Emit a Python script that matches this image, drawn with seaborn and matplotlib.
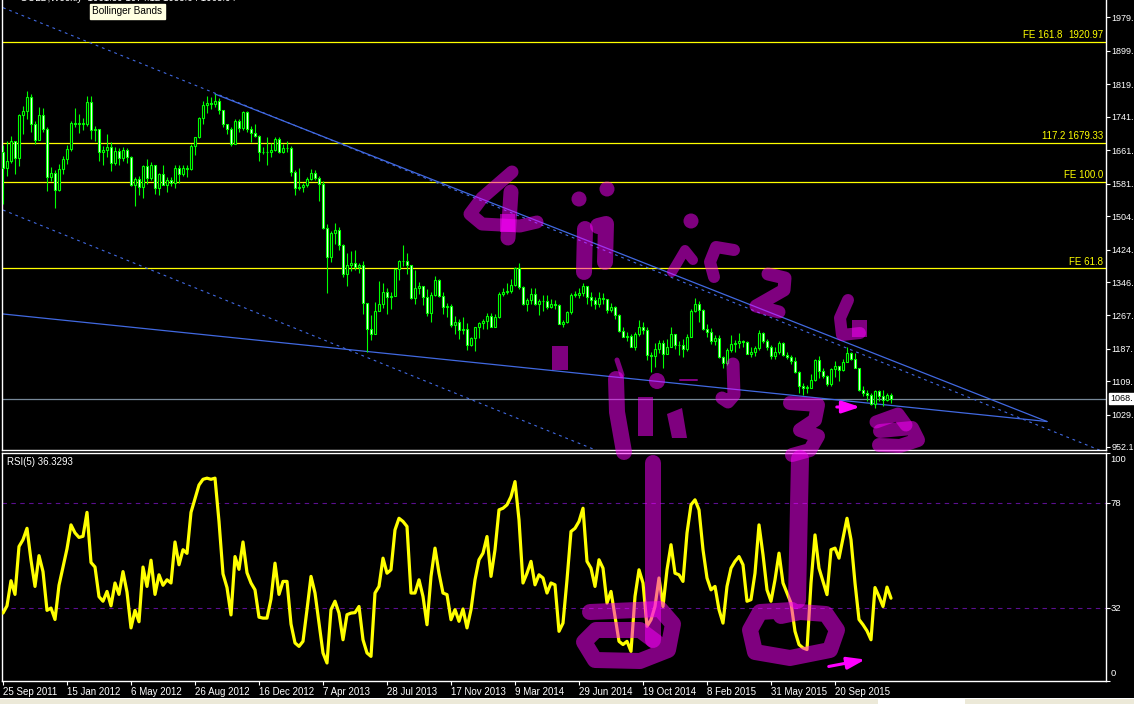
import numpy as np
import matplotlib
matplotlib.use("Agg")
import matplotlib.pyplot as plt
import matplotlib.transforms as mtransforms
from matplotlib.patches import Rectangle, Circle, Polygon
import seaborn as sns

# ---------------- data (weekly GOLD, bar 0 = week of 25 Sep 2011) ----------------
first_open = 1657
closes = [1620,1636,1683,1643,1746,1755,1788,1725,1685,1746,
          1712,1598,1606,1566,1617,1640,1665,1727,1725,1725,
          1725,1776,1710,1712,1658,1662,1668,1631,1659,1642,
          1663,1645,1578,1592,1573,1623,1595,1627,1572,1604,
          1579,1590,1583,1620,1604,1620,1617,1671,1692,1739,
          1770,1773,1772,1780,1757,1724,1712,1677,1731,1714,
          1752,1712,1703,1696,1658,1657,1656,1662,1687,1658,
          1667,1667,1609,1572,1574,1578,1592,1608,1596,1581,
          1476,1405,1463,1470,1436,1366,1387,1392,1383,1387,
          1296,1234,1223,1277,1295,1322,1310,1313,1377,1396,
          1396,1387,1308,1333,1337,1310,1272,1315,1352,1314,
          1287,1288,1244,1251,1231,1235,1197,1213,1238,1248,
          1253,1264,1240,1262,1318,1323,1326,1339,1379,1334,
          1294,1303,1318,1293,1301,1302,1287,1293,1292,1246,
          1252,1274,1316,1316,1320,1337,1310,1303,1294,1309,
          1305,1280,1286,1268,1230,1216,1217,1192,1222,1238,
          1231,1171,1169,1186,1201,1175,1191,1222,1195,1195,
          1186,1216,1277,1293,1279,1234,1228,1205,1212,1167,
          1153,1183,1199,1201,1205,1203,1175,1178,1189,1225,
          1205,1190,1170,1180,1201,1173,1168,1157,1131,1098,
          1094,1094,1113,1159,1134,1121,1103,1138,1145,1137,
          1156,1176,1162,1142,1088,1081,1076,1056,1085,1075,
          1065,1076,1068]
highs = [1675,1684,1695,1684,1748,1767,1803,1795,1730,1764,
         1763,1717,1621,1613,1628,1647,1675,1730,1763,1747,
         1738,1790,1792,1720,1710,1672,1700,1680,1670,1667,
         1668,1667,1647,1597,1600,1627,1641,1632,1627,1606,
         1625,1597,1598,1626,1626,1625,1626,1676,1694,1741,
         1778,1790,1788,1796,1786,1755,1725,1718,1735,1737,
         1754,1754,1720,1723,1697,1669,1694,1679,1694,1694,
         1677,1683,1672,1615,1619,1583,1597,1616,1614,1600,
         1588,1484,1469,1488,1477,1438,1415,1421,1424,1393,
         1397,1295,1267,1298,1348,1345,1331,1323,1378,1400,
         1434,1416,1388,1376,1347,1336,1329,1323,1361,1353,
         1323,1296,1293,1265,1258,1262,1249,1216,1240,1250,
         1259,1272,1273,1270,1322,1332,1345,1354,1383,1392,
         1338,1307,1331,1331,1306,1316,1315,1306,1304,1294,
         1255,1276,1321,1325,1332,1345,1338,1322,1311,1322,
         1320,1305,1296,1288,1271,1238,1226,1221,1227,1255,
         1250,1238,1180,1200,1207,1209,1210,1238,1223,1205,
         1210,1223,1282,1307,1301,1283,1245,1237,1220,1219,
         1170,1188,1220,1209,1224,1209,1205,1192,1194,1232,
         1226,1210,1195,1192,1205,1204,1180,1171,1168,1133,
         1104,1101,1126,1162,1170,1141,1124,1141,1157,1146,
         1162,1191,1180,1176,1142,1097,1088,1080,1088,1089,
         1088,1080,1082]
lows = [1532,1600,1630,1604,1623,1700,1735,1706,1676,1685,
        1704,1564,1587,1523,1564,1605,1628,1659,1718,1703,
        1710,1720,1688,1683,1635,1627,1646,1612,1627,1627,
        1635,1630,1577,1527,1555,1547,1581,1590,1557,1555,
        1578,1562,1575,1572,1583,1600,1598,1613,1650,1690,
        1725,1750,1760,1765,1747,1718,1700,1672,1680,1705,
        1710,1705,1682,1693,1635,1652,1626,1645,1660,1654,
        1654,1657,1599,1554,1566,1562,1573,1591,1589,1539,
        1473,1321,1395,1437,1423,1359,1338,1372,1376,1367,
        1270,1180,1207,1223,1278,1284,1271,1281,1312,1351,
        1385,1366,1306,1294,1317,1291,1266,1251,1314,1311,
        1270,1262,1240,1221,1211,1221,1185,1194,1182,1213,
        1233,1235,1238,1241,1261,1313,1317,1319,1336,1330,
        1291,1277,1295,1291,1268,1277,1283,1285,1282,1245,
        1240,1249,1271,1310,1309,1312,1293,1290,1281,1286,
        1294,1273,1275,1257,1227,1214,1206,1190,1183,1218,
        1223,1160,1131,1144,1177,1142,1176,1191,1186,1171,
        1167,1182,1216,1275,1252,1232,1216,1198,1195,1164,
        1142,1148,1178,1178,1189,1192,1174,1168,1170,1183,
        1200,1185,1162,1163,1175,1170,1162,1150,1130,1081,
        1077,1080,1093,1109,1118,1118,1098,1098,1120,1110,
        1133,1155,1159,1141,1085,1073,1062,1052,1046,1061,
        1050,1062,1058]
rsi = [29.8,33,44,38,59,62,67,53,41.5,55,
       48,31,32,27,42,50,58,68.5,65,63,
       63.5,74,52,50,37,35,39.3,33,43,38,
       48,39,23.3,31,26,50,41.5,53,38,46.6,
       42,44.4,43,61,51,57.6,56,74,80,86,
       88.5,89,88.5,89,70,47,41,29,54.6,49,
       61,47.5,43,40,28,27.6,27.6,36,51.7,38,
       43.7,43.7,25,16.7,15.2,17.4,31.3,45.9,38.6,25.4,
       12.3,7.9,31.3,35,29.8,18.1,29.1,29.8,30,32.7,
       18.1,12.3,10.8,38.6,41.5,53.9,47.3,48.8,66.3,71.4,
       70,67.8,38.6,38.6,44.4,37.1,24.7,45.9,58.3,47.3,
       38.6,37.9,26.9,31.3,26.2,31.6,23.3,31.3,44.4,53.2,
       56.1,63.4,45.9,57.6,75.1,75.8,77.3,80.9,87.5,70.7,
       43,47.3,52.5,42.2,46.6,45.2,38.6,43,42.2,21.8,
       25.4,44.4,65.6,67,70,75.8,52.5,49.5,41.5,53.2,
       49.5,34.2,39.3,28.4,17.4,16,17.4,13,37.1,48.8,
       43,24,26.9,32.7,45.2,32.7,48.8,59.8,47.3,46.6,
       43.7,64.9,77.3,79.5,75.1,57.6,45.2,40,41.5,31.3,
       25.4,41.5,49.5,52.5,54.6,51,35,35.7,47.3,68.5,
       55.4,40,35,44.4,56.1,43,38.6,34.2,21.8,16,
       14.5,13.8,43,64.1,49.5,43.7,37.9,57.6,58.3,53.9,
       62.7,71.4,62,43,27,24.7,22,18.1,41,37.1,
       32.7,41.2,36.33]

date_label_bars = [0, 16, 32, 48, 64, 80, 96, 112, 128, 144, 160, 176, 192, 208]
date_labels = ["25 Sep 2011", "15 Jan 2012", "6 May 2012", "26 Aug 2012", "16 Dec 2012",
               "7 Apr 2013", "28 Jul 2013", "17 Nov 2013", "9 Mar 2014", "29 Jun 2014",
               "19 Oct 2014", "8 Feb 2015", "31 May 2015", "20 Sep 2015"]
price_ticks = [1979, 1899, 1819, 1741, 1661, 1581, 1504, 1424, 1346, 1267, 1187, 1109, 1029, 952.1]
price_tick_labels = ["1979.", "1899.", "1819.", "1741.", "1661.", "1581.", "1504.", "1424.",
                     "1346.", "1267.", "1187.", "1109.", "1029.", "952.1"]
fe_levels = [1920.97, 1679.33, 1586.1, 1379.1]
fe_right_labels = ["1920.97", "117.2 1679.33", "FE 100.0", "FE 61.8"]
fe_top_name = "FE 161.8"
current_price = 1068
current_label = "1068."
rsi_levels = [78, 32]
rsi_axis_labels = ["100", "78", "32", "0"]
rsi_axis_label_vals = [97.4, 78, 32, 3.2]
rsi_title = "RSI(5) 36.3293"
header = "GOLD,Weekly  1061.89 1074.12 1058.64 1068.04"
# trend lines as (bar, price) anchor pairs
trend_solid = [((53, 1795.7), (261, 1013.0)), ((0, 1270.0), (261, 1013.0))]
trend_dashed = [((0, 2002.0), (275, 941.3)), ((0, 1518.5), (275, 453.8))]

# ---------------- style ----------------
sns.set_theme(style="dark", rc={"axes.facecolor": "black", "figure.facecolor": "black",
                                "axes.grid": False})
plt.rcParams['font.family'] = ['Liberation Sans', 'DejaVu Sans']

W, H = 1134, 704
fig = plt.figure(figsize=(W / 100, H / 100), dpi=100)
fig.patch.set_facecolor("black")

def rect(l, t, r, b):
    return [l / W, 1 - b / H, (r - l) / W, (b - t) / H]

ax = fig.add_axes(rect(2, 0, 1105.5, 450))
ax2 = fig.add_axes(rect(2, 452.5, 1105.5, 681))
XMIN, XMAX = -0.25, 275.625
for a in (ax, ax2):
    a.set_facecolor("black")
    a.set_xlim(XMIN, XMAX)
    for s in a.spines.values():
        s.set_color("white")
        s.set_linewidth(1.0)
ax.spines["top"].set_visible(False)
ax.set_ylim(944.93, 2020.34)
ax2.set_ylim(0.15, 100.26)

# ---------------- main panel ----------------
idx = np.arange(len(closes))
c = np.array(closes, dtype=float)
o = np.concatenate([[first_open], c[:-1]])
bottoms = np.minimum(o, c)
heights = np.maximum(np.abs(c - o), 0.8)
fills = ["white" if cc < oo else "black" for oo, cc in zip(o, c)]

for lvl in fe_levels:
    ax.axhline(lvl, color="#FFFF00", lw=0.9, zorder=1)
ax.axhline(current_price, color="#778899", lw=0.9, zorder=1)
for (x0, y0), (x1, y1) in trend_solid:
    ax.plot([x0, x1], [y0, y1], color="#4169E1", lw=0.9, zorder=2)
for (x0, y0), (x1, y1) in trend_dashed:
    ax.plot([x0, x1], [y0, y1], color="#4169E1", lw=0.8, ls=(0, (2.5, 3.5)), zorder=2)

ax.vlines(idx, lows, highs, color="#00FF00", lw=0.8, zorder=3)
ax.bar(idx, heights, bottom=bottoms, width=0.5, color=fills, edgecolor="#00FF00",
       linewidth=0.8, zorder=4)

ax.set_xticks([])
ax.yaxis.tick_right()
ax.set_yticks(price_ticks)
ax.set_yticklabels(price_tick_labels)
ax.tick_params(axis="y", colors="white", labelcolor="white", labelsize=6.5, length=3,
               width=0.8, pad=1.5, right=True, left=False)

tr = mtransforms.offset_copy(mtransforms.blended_transform_factory(ax.transAxes, ax.transData),
                             fig=fig, y=1.5, units="dots")
xr = (1103 - 2) / 1103.5
for lvl, lab in zip(fe_levels, fe_right_labels):
    ax.text(xr, lvl, lab, color="#FFFF00", fontsize=7, ha="right", va="bottom", transform=tr)
ax.text((1062 - 2) / 1103.5, fe_levels[0], fe_top_name, color="#FFFF00", fontsize=7,
        ha="right", va="bottom", transform=tr)

trc = mtransforms.blended_transform_factory(ax.transAxes, ax.transData)
ax.text(1 + 5 / 1103.5, current_price, current_label, color="black", fontsize=6.5,
        ha="left", va="center", transform=trc, clip_on=False,
        bbox=dict(boxstyle="square,pad=0.15", fc="white", ec="white"), zorder=10)

# ---------------- RSI panel ----------------
for lvl in rsi_levels:
    ax2.axhline(lvl, color="#5B0F8F", lw=0.8, ls=(0, (4, 4)), zorder=1)
sns.lineplot(x=idx, y=rsi, ax=ax2, color="#FFFF00", lw=2.3, zorder=3, legend=False)
ax2.set_xlabel("")
ax2.set_ylabel("")
ax2.text(5 / 1103.5, 1 - 9.5 / 228.5, rsi_title, color="white", fontsize=7,
         ha="left", va="center", transform=ax2.transAxes)
ax2.yaxis.tick_right()
ax2.set_yticks([100, 78, 32, 0])
ax2.set_yticklabels([])
ax2.tick_params(axis="y", colors="white", length=3, width=0.8, right=True, left=False)
tr2 = mtransforms.blended_transform_factory(ax2.transAxes, ax2.transData)
for v, lab in zip(rsi_axis_label_vals, rsi_axis_labels):
    ax2.text(1 + 5 / 1103.5, v, lab, color="white", fontsize=6.8, ha="left", va="center",
             transform=tr2, clip_on=False)
ax2.set_xticks(date_label_bars)
ax2.set_xticklabels(date_labels)
ax2.tick_params(axis="x", colors="white", labelcolor="white", labelsize=7, length=3,
                width=0.8, pad=1.5, bottom=True)
for t in ax2.get_xticklabels():
    t.set_ha("left")

# header texts
fig.text(20 / W, 1 + 2 / H, header, color="white", fontsize=7, ha="left", va="center")
fig.text(92 / W, 1 - 11.5 / H, "Bollinger Bands", color="black", fontsize=7.2,
         ha="left", va="center",
         bbox=dict(boxstyle="square,pad=0.25", fc="#FFFFE1", ec="#FFFFE1"))

# ---------------- overlay: hand-drawn marker annotations (pixel space) ----------------
ann = fig.add_axes([0, 0, 1, 1], zorder=20)
ann.set_xlim(0, W)
ann.set_ylim(H, 0)
ann.axis("off")
ann.patch.set_alpha(0)
MAG = (1.0, 0.0, 1.0)

strokes = [
    ([(512, 172), (482, 198), (470, 214), (482, 224), (520, 226), (537, 222)], 13),
    ([(511, 192), (508, 238)], 15),
    ([(585, 229), (584, 272)], 16),
    ([(598, 226), (606, 224), (605, 262)], 16),
    ([(672, 272), (685, 250), (693, 260)], 10),
    ([(734, 250), (716, 247), (710, 262), (714, 277)], 12),
    ([(768, 274), (785, 278), (784, 290), (770, 298), (756, 306), (779, 312)], 13),
    ([(848, 300), (840, 318), (842, 335), (860, 333)], 12),
    ([(617, 360), (622, 375)], 5),
    ([(616, 379), (617, 412), (624, 452)], 16),
    ([(680, 380), (697, 380)], 2),
    ([(733, 364), (734, 395), (728, 402), (722, 398)], 13),
    ([(790, 403), (818, 405), (815, 420), (800, 430), (818, 436), (810, 450), (792, 455)], 14),
    ([(876, 422), (898, 414), (906, 425)], 13),
    ([(880, 431), (912, 428), (918, 440), (900, 446), (879, 445)], 14),
    ([(653, 463), (653, 640)], 16),
    ([(590, 612), (660, 609), (673, 624), (668, 650), (640, 661), (595, 660), (584, 642),
      (596, 630), (640, 630), (656, 642)], 16),
    ([(800, 459), (797, 600)], 18),
    ([(792, 610), (760, 612), (750, 630), (755, 652), (790, 658), (830, 650), (837, 630),
      (826, 614), (800, 612), (781, 616)], 16),
]
for pts, w in strokes:
    xs, ys = zip(*pts)
    ann.plot(xs, ys, color=MAG, alpha=0.5, lw=w * 0.72, solid_capstyle="round",
             solid_joinstyle="round")
for (cx, cy), r in [((579, 199), 7.5), ((607, 189), 7.5), ((691, 221), 7.5), ((657, 381), 8)]:
    ann.add_patch(Circle((cx, cy), r, fc=MAG, alpha=0.5, ec="none"))
for (x0, y0, x1, y1) in [(552, 346, 568, 370), (638, 397, 653, 436), (852, 320, 867, 337),
                         (500, 214, 515, 232)]:
    ann.add_patch(Rectangle((x0, y0), x1 - x0, y1 - y0, fc=MAG, alpha=0.5, ec="none"))
ann.add_patch(Polygon([(667, 414), (682, 408), (687, 438), (672, 438)], closed=True,
                      fc=MAG, alpha=0.5, ec="none"))
for (xa, ya), (xb, yb) in [((834, 407), (863, 407)), ((826, 667), (868, 659))]:
    ann.annotate("", xy=(xb, yb), xytext=(xa, ya),
                 arrowprops=dict(arrowstyle="-|>,head_length=0.9,head_width=0.3",
                                 color="#FF00FF", lw=2.2))

# bottom status strip
ann.add_patch(Rectangle((0, 698), W, 1, fc="white", ec="none"))
ann.add_patch(Rectangle((0, 699), W, 5, fc="#ECE9D8", ec="none"))
ann.add_patch(Rectangle((878, 699), 87, 5, fc="white", ec="none"))

fig.savefig("out.png", dpi=100, facecolor="black")
